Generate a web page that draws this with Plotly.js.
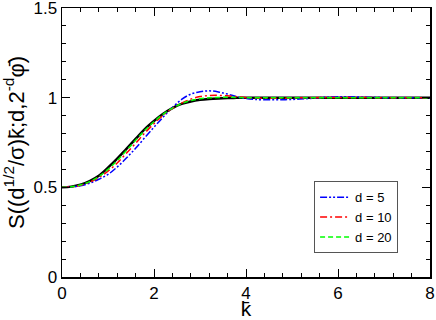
<!DOCTYPE html>
<html>
<head>
<meta charset="utf-8">
<script src="https://cdn.plot.ly/plotly-3.0.1.min.js"></script>
<style>html,body{margin:0;padding:0;background:#fff;}#chart{width:436px;height:320px;}</style>
</head>
<body>
<div id="chart"></div>
<script>
// k-bar values
const kLimit = [0,0.2,0.4,0.6,0.8,1.0,1.2,1.4,1.6,1.8,2.0,2.2,2.4,2.6,2.8,3.0,3.2,3.4,3.6,3.8,4.0,5.0,6.0,7.0,8.0];
const sLimit = [0.5,0.504,0.515,0.535,0.565,0.61,0.66,0.715,0.77,0.825,0.87,0.91,0.942,0.965,0.979,0.988,0.993,0.996,0.998,0.999,1.0,1.0,1.0,1.0,1.0];

const kD5 = [0,0.2,0.4,0.6,0.8,1.0,1.2,1.4,1.6,1.8,2.0,2.2,2.4,2.6,2.8,3.0,3.2,3.4,3.6,3.8,4.0,4.2,4.6,5.0,5.4,5.8,6.2,6.6,7.0,7.5,8.0];
const sD5 = [0.5,0.502,0.509,0.523,0.545,0.572,0.613,0.663,0.718,0.777,0.835,0.892,0.945,0.99,1.02,1.033,1.038,1.032,1.02,1.005,0.995,0.99,0.988,0.99,0.996,1.003,1.005,1.002,1.0,0.999,1.0];

const kD10 = [0,0.2,0.4,0.6,0.8,1.0,1.2,1.4,1.6,1.8,2.0,2.2,2.4,2.6,2.8,3.0,3.2,3.4,3.6,3.8,4.0,4.4,4.8,5.2,6.0,7.0,8.0];
const sD10 = [0.5,0.503,0.511,0.529,0.555,0.59,0.636,0.69,0.745,0.803,0.855,0.902,0.94,0.97,0.992,1.006,1.012,1.013,1.01,1.005,1.0,0.997,0.997,0.999,1.001,1.0,1.0];

const kD20 = [0,0.2,0.4,0.6,0.8,1.0,1.2,1.4,1.6,1.8,2.0,2.2,2.4,2.6,2.8,3.0,3.2,3.4,3.6,3.8,4.0,4.5,5.0,6.0,7.0,8.0];
const sD20 = [0.5,0.503,0.513,0.532,0.56,0.6,0.65,0.705,0.762,0.818,0.866,0.908,0.942,0.967,0.984,0.994,0.999,1.001,1.002,1.001,1.0,0.999,1.0,1.0,1.0,1.0];

const legendNames = ['d = 5', 'd = 10', 'd = 20'];
const xTitle = 'k\u0304';
const yTitle = 'S((d<sup>1/2</sup>/\u03c3)k\u0304;d,2<sup>-d</sup>\u03c6\u0304)';

const traces = [
  {x: kLimit, y: sLimit, mode: 'lines', line: {color: '#000', width: 2.5, shape: 'spline'}, showlegend: false},
  {x: kD5, y: sD5, mode: 'lines', name: legendNames[0], line: {color: '#0000ff', width: 1.5, dash: '7px,2px,2px,2px,2px,2px', shape: 'spline'}},
  {x: kD10, y: sD10, mode: 'lines', name: legendNames[1], line: {color: '#ff0000', width: 1.5, dash: '7px,3px,2px,3px', shape: 'spline'}},
  {x: kD20, y: sD20, mode: 'lines', name: legendNames[2], line: {color: '#00ff00', width: 1.5, dash: '5px,3px', shape: 'spline'}}
];

const axisCommon = {
  showgrid: false, zeroline: false, showline: true, linecolor: '#000', linewidth: 1.5,
  mirror: 'ticks', ticks: 'inside', ticklen: 8, tickwidth: 1, tickcolor: '#000',
  ticklabeloverflow: 'allow',
  tickfont: {family: 'Liberation Sans, Arial, sans-serif', size: 17, color: '#000'}
};

const layout = {
  width: 436, height: 320,
  margin: {l: 62, r: 6, t: 8, b: 43},
  paper_bgcolor: '#fff', plot_bgcolor: '#fff',
  font: {family: 'Liberation Sans, Arial, sans-serif', color: '#000'},
  xaxis: Object.assign({}, axisCommon, {
    range: [0, 8], dtick: 2, tick0: 0,
    minor: {dtick: 0.4, ticklen: 4, ticks: 'inside', tickcolor: '#000'},
    title: {text: xTitle, font: {size: 21}, standoff: 9}
  }),
  yaxis: Object.assign({}, axisCommon, {
    range: [0, 1.5], dtick: 0.5, tick0: 0,
    minor: {dtick: 0.1, ticklen: 4, ticks: 'inside', tickcolor: '#000'},
    title: {text: yTitle, font: {size: 22}, standoff: 3}
  }),
  legend: {
    x: 0.685, y: 0.356, xanchor: 'left', yanchor: 'top',
    bgcolor: '#fff', bordercolor: '#555', borderwidth: 1,
    font: {size: 13, color: '#000'}
  },
  showlegend: true
};

Plotly.newPlot('chart', traces, layout, {staticPlot: true});
</script>
</body>
</html>
